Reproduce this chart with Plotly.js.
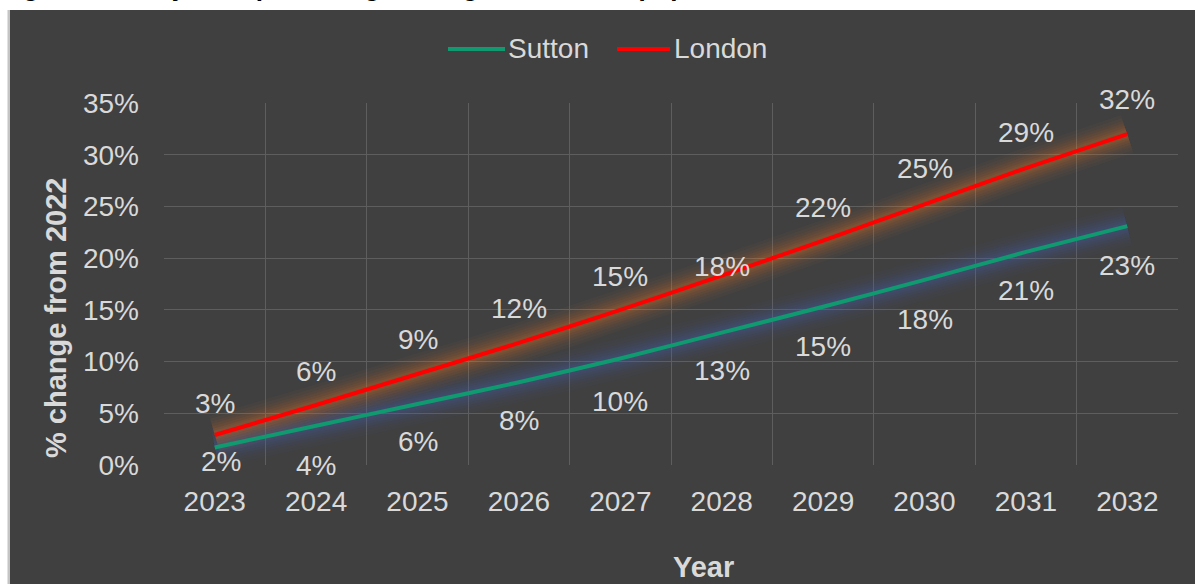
<!DOCTYPE html>
<html>
<head>
<meta charset="utf-8">
<script src="https://cdn.plot.ly/plotly-3.0.1.min.js"></script>
<style>
  html, body { margin: 0; padding: 0; background: #ffffff; }
  #chart { width: 1195px; height: 584px; }
</style>
</head>
<body>
<div id="chart"></div>
<script>
// ---- data ----
const years = ['2023','2024','2025','2026','2027','2028','2029','2030','2031','2032'];
const sutton = [1.7, 3.8, 5.9, 8.0, 10.3, 12.8, 15.3, 17.9, 20.6, 23.1];
const london = [2.9, 5.8, 8.8, 11.8, 15.0, 18.3, 21.7, 25.2, 28.7, 32.0];
const seriesNames = ['Sutton', 'London'];
const titleText = 'Figure 11: Projected percentage change in the total population from 2022, 2023 to 2032';
const yTitle = '% change from 2022';
const xTitle = 'Year';

// ---- style ----
const FONT = '"Liberation Sans", Arial, sans-serif';
const TXT = '#d9d9d9';
const GRID = '#5e5e5e';
const BG = '#404040';
const SUTTON_COL = '#0f9a6f';
const LONDON_COL = '#ff0000';
const FS = 28;

// plot area in pixels
const L = 164, R = 1178, T = 103, B = 465, W = 1195, H = 584;
const px = x => (x - L) / (R - L);
const py = y => (B - y) / (B - T);
const idx = years.map((_, i) => i);

function glow(y, rgb) {
  const out = [];
  [[40, 0.03], [34, 0.04], [28, 0.05], [23, 0.06], [18, 0.07], [13, 0.08], [9, 0.09]].forEach(([w, a]) => {
    out.push({
      x: idx, y: y, type: 'scatter', mode: 'lines',
      line: { color: `rgba(${rgb},${a})`, width: w, shape: 'spline', smoothing: 0.5 },
      hoverinfo: 'skip', showlegend: false
    });
  });
  return out;
}

const traces = [
  ...glow(sutton, '70,105,185'),
  ...glow(london, '240,125,40'),
  { x: idx, y: sutton, name: seriesNames[0], type: 'scatter', mode: 'lines', showlegend: false,
    line: { color: SUTTON_COL, width: 4, shape: 'spline', smoothing: 0.5 } },
  { x: idx, y: london, name: seriesNames[1], type: 'scatter', mode: 'lines', showlegend: false,
    line: { color: LONDON_COL, width: 4, shape: 'spline', smoothing: 0.5 } }
];

// data label offsets (px, styling only)
const londonShift = [32, 34, 34, 34, 33, 9, 33, 36, 36, 35];
const suttonShift = [-14, -40, -38, -38, -43, -38, -40, -40, -39, -39];
const suttonX = [6, 0, 0, 0, 0, 0, 0, 0, 0, 0];

const annotations = [];
idx.forEach(i => {
  annotations.push({ x: i, y: london[i], xref: 'x', yref: 'y', text: Math.round(london[i]) + '%',
    showarrow: false, yshift: londonShift[i], font: { family: FONT, size: FS, color: TXT } });
  annotations.push({ x: i, y: sutton[i], xref: 'x', yref: 'y', text: Math.round(sutton[i]) + '%',
    showarrow: false, yshift: suttonShift[i], xshift: suttonX[i], font: { family: FONT, size: FS, color: TXT } });
});
// clipped figure title at the very top
annotations.push({ xref: 'paper', yref: 'paper', x: px(-2), y: py(4), xanchor: 'left', yanchor: 'bottom',
  text: '<b>' + titleText + '</b>', showarrow: false, font: { family: FONT, size: 26, color: '#000000' } });
// axis titles
annotations.push({ xref: 'paper', yref: 'paper', x: px(703), y: py(567), xanchor: 'center', yanchor: 'middle',
  text: '<b>' + xTitle + '</b>', showarrow: false, font: { family: FONT, size: 29, color: TXT } });
annotations.push({ xref: 'paper', yref: 'paper', x: px(56), y: py(318), xanchor: 'center', yanchor: 'middle',
  text: '<b>' + yTitle + '</b>', textangle: -90, showarrow: false, font: { family: FONT, size: 29, color: TXT } });
// legend entries
const legendItems = [
  { name: seriesNames[0], color: SUTTON_COL, x0: 448, x1: 505, tx: 506 },
  { name: seriesNames[1], color: LONDON_COL, x0: 617, x1: 670, tx: 672 }
];
legendItems.forEach(it => {
  annotations.push({ xref: 'paper', yref: 'paper', x: px(it.tx), y: py(48), xanchor: 'left', yanchor: 'middle',
    text: it.name, showarrow: false, font: { family: FONT, size: FS, color: TXT } });
});

const shapes = [
  { type: 'rect', xref: 'paper', yref: 'paper', x0: px(10), x1: px(W + 5), y0: py(10), y1: py(H + 5),
    fillcolor: BG, line: { width: 0 }, layer: 'below' },
  { type: 'rect', xref: 'paper', yref: 'paper', x0: px(7.5), x1: px(10), y0: py(10), y1: py(H + 5),
    fillcolor: '#c4c4c4', line: { width: 0 }, layer: 'below' }
];
legendItems.forEach(it => {
  shapes.push({ type: 'line', xref: 'paper', yref: 'paper', x0: px(it.x0), x1: px(it.x1), y0: py(49), y1: py(49),
    line: { color: it.color, width: 4 }, layer: 'above' });
});

const layout = {
  width: W, height: H,
  margin: { l: L, r: W - R, t: T, b: H - B, pad: 0 },
  paper_bgcolor: '#ffffff',
  plot_bgcolor: 'rgba(0,0,0,0)',
  font: { family: FONT, size: FS, color: TXT },
  showlegend: false,
  xaxis: {
    type: 'linear', range: [-0.5, 9.5],
    tickmode: 'array', tickvals: idx, ticktext: years,
    showgrid: false, zeroline: false, showline: false, ticks: '',
    ticklabelstandoff: 17,
    tickfont: { family: FONT, size: FS, color: TXT },
    fixedrange: true
  },
  xaxis2: {
    overlaying: 'x', range: [-0.5, 9.5], tickmode: 'linear', tick0: -0.5, dtick: 1,
    showgrid: true, gridcolor: GRID, gridwidth: 1, showticklabels: false,
    zeroline: false, showline: false, ticks: '', fixedrange: true
  },
  yaxis: {
    range: [0, 35], dtick: 5, ticksuffix: '%',
    showgrid: true, gridcolor: GRID, gridwidth: 1,
    zeroline: false, showline: false, ticks: '',
    ticklabelstandoff: 24,
    tickfont: { family: FONT, size: FS, color: TXT },
    fixedrange: true
  },
  shapes: shapes,
  annotations: annotations
};

// invisible trace to activate the gridline axis
traces.unshift({ x: [0], y: [0], xaxis: 'x2', yaxis: 'y', mode: 'markers', marker: { opacity: 0 },
  hoverinfo: 'skip', showlegend: false });

Plotly.newPlot('chart', traces, layout, { displayModeBar: false, staticPlot: true });
</script>
</body>
</html>
